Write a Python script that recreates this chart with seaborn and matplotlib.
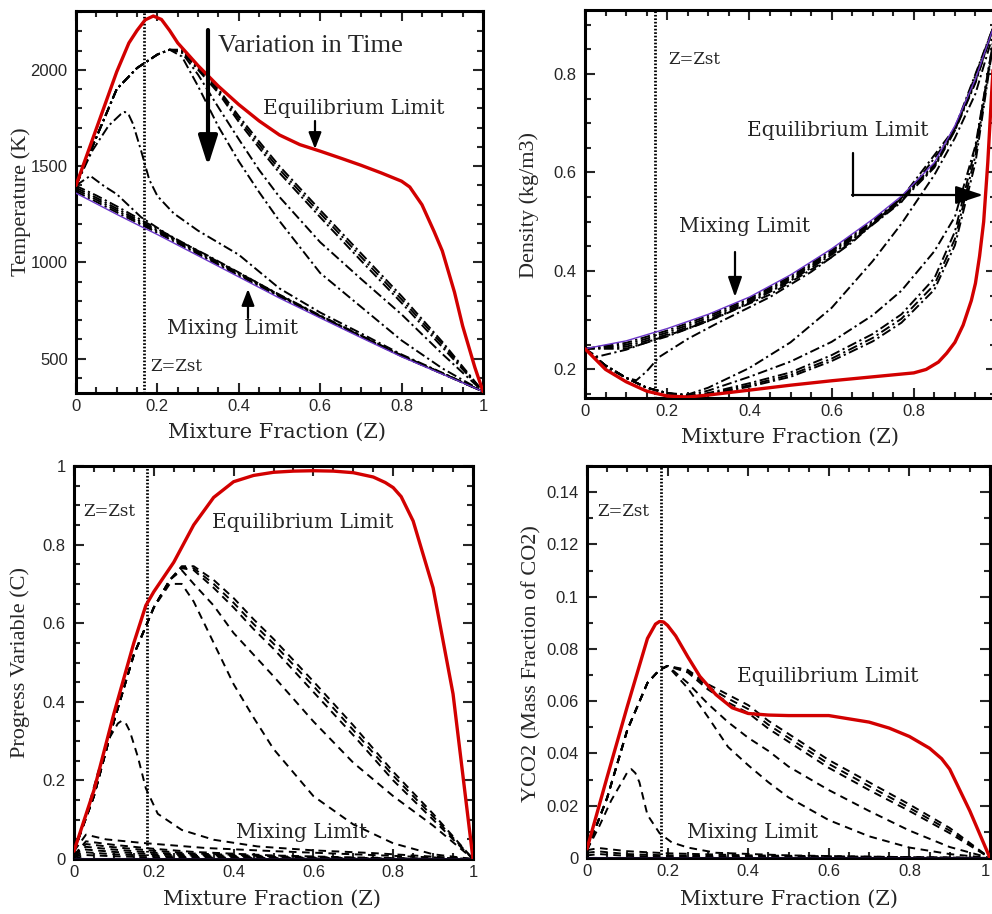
import numpy as np
import pandas as pd
import matplotlib
matplotlib.use("Agg")
import matplotlib.pyplot as plt
import seaborn as sns
from matplotlib.ticker import MultipleLocator, FuncFormatter
from matplotlib.patches import FancyArrowPatch
from matplotlib.lines import Line2D

# ======================= DATA =======================
# ---- Temperature panel ----
T_eq_z = [0, 0.05, 0.1, 0.13, 0.15, 0.17, 0.19, 0.21, 0.23, 0.25, 0.3, 0.35, 0.4, 0.45, 0.5, 0.55, 0.6, 0.65,
          0.7, 0.75, 0.8, 0.82, 0.85, 0.88, 0.9, 0.93, 0.95, 0.98, 1.0]
T_eq = [1400, 1695, 1990, 2140, 2205, 2260, 2280, 2262, 2205, 2140, 2022, 1915, 1820, 1735, 1662, 1612, 1578, 1542,
        1505, 1465, 1422, 1392, 1300, 1160, 1060, 845, 670, 455, 330]
T_band_z = [0, 0.05, 0.1, 0.15, 0.2, 0.3, 0.4, 0.5, 0.6, 0.7, 0.8, 0.9, 1.0]
T_mix = [1360, 1305, 1250, 1197, 1145, 1035, 925, 815, 712, 610, 510, 420, 330]
T_n1 = [1368, 1315, 1260, 1207, 1154, 1043, 932, 822, 717, 615, 513, 422, 330]
T_n2 = [1378, 1326, 1270, 1215, 1161, 1049, 937, 826, 720, 617, 515, 423, 330]
T_n3 = [1388, 1336, 1280, 1223, 1167, 1054, 941, 829, 722, 619, 516, 424, 330]
T_n4 = [1398, 1348, 1292, 1233, 1175, 1060, 946, 833, 725, 621, 517, 425, 330]
T_E_z = [0, 0.035, 0.07, 0.1, 0.16, 0.24, 0.32, 0.42, 0.5, 0.6, 0.8, 1.0]
T_E = [1400, 1450, 1395, 1355, 1235, 1125, 1040, 925, 830, 722, 514, 330]
T_ign_z = [0, 0.04, 0.08, 0.11, 0.12, 0.13, 0.14, 0.16, 0.18, 0.2, 0.24, 0.3, 0.4, 0.5, 0.6, 0.7, 0.8, 0.9, 1.0]
T_ign = [1400, 1580, 1710, 1770, 1782, 1765, 1720, 1580, 1430, 1345, 1255, 1165, 1040, 865, 740, 632, 522, 427, 330]
T_burn_z = [0, 0.05, 0.1, 0.15, 0.2, 0.23, 0.26, 0.3, 0.35, 0.4, 0.45, 0.5, 0.6, 0.7, 0.8, 0.9, 1.0]
T_L = [1400, 1650, 1900, 2010, 2080, 2105, 2070, 1915, 1705, 1525, 1365, 1215, 945, 770, 595, 450, 330]
T_M2 = [1400, 1650, 1900, 2010, 2080, 2105, 2090, 1975, 1805, 1640, 1480, 1340, 1105, 915, 730, 525, 330]
T_B1 = [1400, 1650, 1900, 2010, 2080, 2105, 2095, 2000, 1880, 1730, 1595, 1465, 1235, 1010, 790, 560, 330]
T_B2 = [1400, 1650, 1900, 2010, 2080, 2105, 2100, 2010, 1890, 1745, 1612, 1483, 1255, 1030, 808, 575, 330]
T_B3 = [1400, 1650, 1900, 2010, 2080, 2105, 2105, 2018, 1900, 1760, 1628, 1500, 1272, 1048, 825, 588, 330]
Zst_T = 0.167

# ---- Density panel ----
R_eq_z = [0, 0.05, 0.1, 0.15, 0.2, 0.25, 0.3, 0.4, 0.5, 0.6, 0.7, 0.8, 0.83, 0.86, 0.88, 0.9, 0.92, 0.94,
          0.95, 0.96, 0.97, 0.98, 0.99, 1.0]
R_eq = [0.242, 0.2, 0.175, 0.156, 0.146, 0.144, 0.148, 0.158, 0.168, 0.177, 0.185, 0.193, 0.2, 0.215, 0.233,
        0.255, 0.29, 0.34, 0.375, 0.43, 0.5, 0.62, 0.77, 0.91]
R_band_z = [0, 0.1, 0.2, 0.3, 0.4, 0.5, 0.6, 0.7, 0.77, 0.85, 0.9, 0.95, 1.0]
R_mix = [0.242, 0.258, 0.283, 0.312, 0.347, 0.392, 0.445, 0.505, 0.552, 0.62, 0.695, 0.79, 0.91]
R_n1 = [0.242, 0.254, 0.279, 0.309, 0.344, 0.389, 0.442, 0.502, 0.549, 0.617, 0.692, 0.788, 0.91]
R_n2 = [0.242, 0.25, 0.275, 0.305, 0.341, 0.386, 0.439, 0.5, 0.546, 0.614, 0.689, 0.786, 0.91]
R_n3 = [0.242, 0.246, 0.271, 0.301, 0.338, 0.383, 0.436, 0.497, 0.544, 0.612, 0.687, 0.784, 0.91]
R_n4 = [0.242, 0.242, 0.267, 0.298, 0.335, 0.38, 0.433, 0.495, 0.542, 0.61, 0.685, 0.782, 0.91]
R_E_z = [0, 0.03, 0.1, 0.16, 0.24, 0.32, 0.45, 0.6, 0.77, 0.9, 1.0]
R_E = [0.242, 0.226, 0.24, 0.258, 0.28, 0.305, 0.352, 0.428, 0.54, 0.685, 0.91]
R_ign_z = [0, 0.05, 0.1, 0.125, 0.15, 0.18, 0.25, 0.32, 0.45, 0.55, 0.65, 0.77, 0.9, 1.0]
R_ign = [0.242, 0.205, 0.183, 0.178, 0.196, 0.225, 0.262, 0.293, 0.347, 0.398, 0.458, 0.548, 0.69, 0.91]
R_burn_z = [0, 0.05, 0.1, 0.15, 0.2, 0.25, 0.3, 0.4, 0.5, 0.6, 0.7, 0.77, 0.85, 0.9, 0.95, 1.0]
R_L = [0.242, 0.208, 0.183, 0.163, 0.152, 0.149, 0.163, 0.203, 0.255, 0.325, 0.42, 0.496, 0.595, 0.67, 0.76, 0.9]
R_M2 = [0.242, 0.208, 0.183, 0.163, 0.152, 0.147, 0.157, 0.185, 0.216, 0.256, 0.31, 0.36, 0.44, 0.51, 0.655, 0.9]
R_B1 = [0.242, 0.208, 0.183, 0.163, 0.152, 0.146, 0.152, 0.172, 0.194, 0.229, 0.272, 0.312, 0.385, 0.48, 0.65, 0.9]
R_B2 = [0.242, 0.208, 0.183, 0.163, 0.152, 0.145, 0.15, 0.168, 0.189, 0.222, 0.264, 0.303, 0.372, 0.465, 0.635, 0.9]
R_B3 = [0.242, 0.208, 0.183, 0.163, 0.152, 0.145, 0.149, 0.165, 0.185, 0.217, 0.257, 0.295, 0.362, 0.452, 0.62, 0.9]
Zst_R = 0.170

# ---- Progress variable panel ----
C_eq_z = [0, 0.05, 0.1, 0.15, 0.18, 0.2, 0.25, 0.3, 0.35, 0.4, 0.45, 0.5, 0.55, 0.6, 0.65, 0.7, 0.75, 0.78,
          0.8, 0.82, 0.85, 0.9, 0.95, 1.0]
C_eq = [0.02, 0.175, 0.37, 0.55, 0.645, 0.68, 0.755, 0.85, 0.92, 0.96, 0.976, 0.984, 0.987, 0.988, 0.987, 0.983,
        0.972, 0.958, 0.945, 0.922, 0.86, 0.69, 0.42, 0.0]
C_band_z = [0, 0.03, 0.1, 0.2, 0.3, 0.5, 0.7, 0.9, 1.0]
C_mix = [0, 0, 0, 0, 0, 0, 0, 0, 0]
C_n1 = [0.01, 0.045, 0.036, 0.026, 0.018, 0.009, 0.004, 0.001, 0.0]
C_n2 = [0.01, 0.038, 0.03, 0.021, 0.014, 0.007, 0.003, 0.0, 0.0]
C_n3 = [0.008, 0.031, 0.024, 0.016, 0.011, 0.005, 0.002, 0.0, 0.0]
C_n4 = [0.005, 0.024, 0.018, 0.012, 0.008, 0.003, 0.001, 0.0, 0.0]
C_n5 = [0.003, 0.017, 0.012, 0.008, 0.005, 0.002, 0.0, 0.0, 0.0]
C_n6 = [0.0, 0.01, 0.007, 0.004, 0.003, 0.001, 0.0, 0.0, 0.0]
C_E_z = [0, 0.03, 0.08, 0.17, 0.33, 0.5, 0.7, 0.9, 1.0]
C_E = [0.02, 0.062, 0.05, 0.041, 0.028, 0.02, 0.012, 0.004, 0.0]
C_ign_z = [0, 0.03, 0.06, 0.09, 0.11, 0.12, 0.13, 0.14, 0.16, 0.18, 0.21, 0.27, 0.35, 0.46, 0.6, 0.75, 0.9, 1.0]
C_ign = [0.02, 0.11, 0.22, 0.31, 0.345, 0.352, 0.345, 0.325, 0.26, 0.18, 0.115, 0.074, 0.049, 0.032, 0.022, 0.015,
         0.006, 0.0]
C_burn_z = [0, 0.05, 0.1, 0.15, 0.2, 0.24, 0.27, 0.3, 0.35, 0.4, 0.45, 0.5, 0.6, 0.7, 0.8, 0.9, 1.0]
C_L = [0.02, 0.16, 0.35, 0.52, 0.64, 0.7, 0.7, 0.655, 0.55, 0.445, 0.36, 0.28, 0.16, 0.088, 0.04, 0.012, 0.0]
C_M2 = [0.02, 0.16, 0.35, 0.52, 0.64, 0.71, 0.735, 0.7, 0.645, 0.575, 0.52, 0.465, 0.35, 0.245, 0.16, 0.085, 0.0]
C_B1 = [0.02, 0.16, 0.35, 0.52, 0.64, 0.71, 0.74, 0.735, 0.69, 0.64, 0.585, 0.535, 0.425, 0.315, 0.2, 0.1, 0.0]
C_B2 = [0.02, 0.16, 0.35, 0.52, 0.64, 0.71, 0.742, 0.74, 0.70, 0.652, 0.598, 0.548, 0.44, 0.328, 0.212, 0.108, 0.0]
C_B3 = [0.02, 0.16, 0.35, 0.52, 0.64, 0.71, 0.745, 0.745, 0.71, 0.664, 0.61, 0.56, 0.452, 0.34, 0.222, 0.115, 0.0]
Zst_C = 0.182

# ---- CO2 panel ----
Y_eq_z = [0, 0.05, 0.1, 0.15, 0.17, 0.18, 0.19, 0.2, 0.22, 0.25, 0.28, 0.32, 0.36, 0.4, 0.45, 0.5, 0.6, 0.7,
          0.75, 0.8, 0.85, 0.88, 0.9, 0.95, 1.0]
Y_eq = [0.0035, 0.031, 0.058, 0.084, 0.0895, 0.0905, 0.0903, 0.089, 0.085, 0.077, 0.0695, 0.0625, 0.0575, 0.0553,
        0.0547, 0.0545, 0.0545, 0.052, 0.0497, 0.0465, 0.042, 0.038, 0.034, 0.018, 0.0]
Y_band_z = [0, 0.03, 0.1, 0.2, 0.4, 0.7, 1.0]
Y_mix = [0, 0, 0, 0, 0, 0, 0]
Y_E = [0.003, 0.0038, 0.0026, 0.0018, 0.001, 0.0005, 0.0]
Y_n1 = [0.002, 0.0025, 0.0015, 0.001, 0.0006, 0.0003, 0.0]
Y_n2 = [0.001, 0.0015, 0.0008, 0.0005, 0.0003, 0.0001, 0.0]
Y_ign_z = [0, 0.03, 0.06, 0.09, 0.1, 0.11, 0.12, 0.13, 0.15, 0.18, 0.21, 0.25, 0.32, 0.5, 0.7, 1.0]
Y_ign = [0.003, 0.012, 0.022, 0.03, 0.0328, 0.034, 0.0325, 0.029, 0.0165, 0.0095, 0.006, 0.004, 0.002, 0.001,
         0.0005, 0.0]
Y_burn_z = [0, 0.05, 0.1, 0.15, 0.18, 0.2, 0.25, 0.3, 0.35, 0.4, 0.45, 0.5, 0.6, 0.7, 0.8, 0.9, 1.0]
Y_L = [0.003, 0.023, 0.049, 0.067, 0.072, 0.0735, 0.065, 0.054, 0.0425, 0.0355, 0.029, 0.0232, 0.0145, 0.0083, 0.004, 0.0015, 0.0]
Y_M2 = [0.003, 0.023, 0.049, 0.067, 0.072, 0.0735, 0.067, 0.059, 0.052, 0.046, 0.041, 0.035, 0.026, 0.018, 0.0105, 0.0042, 0.0]
Y_B1 = [0.003, 0.023, 0.049, 0.067, 0.072, 0.0735, 0.071, 0.0645, 0.0595, 0.0555, 0.0495, 0.0445, 0.0345, 0.026, 0.018, 0.0095, 0.0]
Y_B2 = [0.003, 0.023, 0.049, 0.067, 0.072, 0.0735, 0.0715, 0.0655, 0.061, 0.057, 0.051, 0.046, 0.036, 0.0275, 0.0192, 0.0105, 0.0]
Y_B3 = [0.003, 0.023, 0.049, 0.067, 0.072, 0.0735, 0.072, 0.0665, 0.0625, 0.0585, 0.0525, 0.0475, 0.0375, 0.029, 0.0205, 0.0115, 0.0]
Zst_Y = 0.184

# ======================= STYLE =======================
sns.set_style("ticks")
plt.rcParams["font.family"] = ["Liberation Sans", "DejaVu Sans"]
plt.rcParams["lines.scale_dashes"] = False

RED = "#d20000"
PURPLE = "#6a35c8"
SERIF = ["Liberation Serif", "DejaVu Serif"]
SPACED = ["DejaVu Serif"]
DASHDOT = (7, 2.5, 1.6, 2.5)
DASHED = (5.5, 4.0)

W, H = 992, 914
fig = plt.figure(figsize=(W / 100, H / 100), dpi=100)
fig.patch.set_facecolor("white")


def axes_px(left, top, right, bottom):
    return fig.add_axes([left / W, 1 - bottom / H, (right - left) / W, (bottom - top) / H])


def P(x, y):
    return (x / W, 1 - y / H)


def curve(ax, z, v, kind, dash=None):
    if kind == "eq":
        sns.lineplot(x=z, y=v, ax=ax, color=RED, linewidth=2.4, estimator=None, sort=False, zorder=8)
        ax.lines[-1].set_solid_joinstyle("round")
    elif kind == "mix":
        sns.lineplot(x=z, y=v, ax=ax, color=PURPLE, linewidth=1.0, estimator=None, sort=False, zorder=7)
    else:
        sns.lineplot(x=z, y=v, ax=ax, color="black", linewidth=1.4, estimator=None, sort=False, zorder=5)
        ax.lines[-1].set_dashes(dash)


def style_axes(ax, ylim, ymaj, ymin):
    ax.set_xlim(0, 1)
    ax.set_ylim(*ylim)
    ax.set_facecolor("white")
    ax.xaxis.set_major_locator(MultipleLocator(0.2))
    ax.xaxis.set_minor_locator(MultipleLocator(0.05))
    ax.yaxis.set_major_locator(MultipleLocator(ymaj))
    ax.yaxis.set_minor_locator(MultipleLocator(ymin))
    fmt = FuncFormatter(lambda v, p: f"{v:g}")
    ax.xaxis.set_major_formatter(fmt)
    ax.yaxis.set_major_formatter(fmt)
    ax.tick_params(which="both", direction="in", top=True, right=True, width=1.5, labelsize=12)
    ax.tick_params(which="major", length=7)
    ax.tick_params(which="minor", length=4)
    ax.tick_params(axis="x", pad=4)
    ax.tick_params(axis="y", pad=6)
    for s in ax.spines.values():
        s.set_linewidth(2.2)
        s.set_color("black")
    ax.grid(False)


def zst(ax, z):
    ax.axvline(z, color="black", linewidth=2.0, linestyle=(0, (1.2, 1.3)), zorder=4)


def labels(ax, xl, yl, xc, yc):
    ax.set_xlabel(xl, fontfamily=SPACED, fontsize=15, va="center")
    ax.set_ylabel(yl, fontfamily=SERIF, fontsize=16, va="center")
    ax.xaxis.set_label_coords(*xc)
    ax.yaxis.set_label_coords(*yc)


def text(x, y, s, size=14.5, fam=SPACED):
    fig.text(*P(x, y), s, fontsize=size, fontfamily=fam, ha="left", va="center", zorder=20)


def arrow(x0, y0, x1, y1, lw=1.6, hl=0.9, hw=0.35, ms=12):
    a = FancyArrowPatch(P(x0, y0), P(x1, y1), transform=fig.transFigure,
                        arrowstyle=f"-|>,head_length={hl},head_width={hw}",
                        mutation_scale=ms, linewidth=lw, color="black",
                        shrinkA=0, shrinkB=0, zorder=20)
    fig.add_artist(a)


def panel(ax, eq_z, eq, band_z, mix, bands, E_z, E, ign_z, ign, burn_z, burns, dash):
    for b in bands:
        curve(ax, band_z, b, "burn", dash)
    curve(ax, E_z, E, "burn", dash)
    curve(ax, ign_z, ign, "burn", dash)
    for b in burns:
        curve(ax, burn_z, b, "burn", dash)
    curve(ax, band_z, mix, "mix")
    curve(ax, eq_z, eq, "eq")


# ---- Temperature ----
ax1 = axes_px(76, 11, 483, 393)
zst(ax1, Zst_T)
panel(ax1, T_eq_z, T_eq, T_band_z, T_mix, [T_n1, T_n2, T_n3, T_n4], T_E_z, T_E, T_ign_z, T_ign,
      T_burn_z, [T_L, T_M2, T_B1, T_B2, T_B3], DASHDOT)
style_axes(ax1, (322, 2306), 500, 100)
labels(ax1, "Mixture Fraction (Z)", "Temperature (K)", (0.495, -0.102), (-0.135, 0.5))

# ---- Density ----
ax2 = axes_px(585, 10, 996, 398)
zst(ax2, Zst_R)
panel(ax2, R_eq_z, R_eq, R_band_z, R_mix, [R_n1, R_n2, R_n3, R_n4], R_E_z, R_E, R_ign_z, R_ign,
      R_burn_z, [R_L, R_M2, R_B1, R_B2, R_B3], DASHDOT)
style_axes(ax2, (0.142, 0.93), 0.2, 0.05)
# the tick label at Z=1 lies outside the visible picture
ax2.xaxis.set_major_formatter(FuncFormatter(lambda v, p: "" if v > 0.99 else f"{v:g}"))
labels(ax2, "Mixture Fraction (Z)", "Density (kg/m3)", (0.499, -0.1005), (-0.136, 0.497))

# ---- Progress variable ----
ax3 = axes_px(74, 466, 473, 859)
zst(ax3, Zst_C)
panel(ax3, C_eq_z, C_eq, C_band_z, C_mix, [C_n1, C_n2, C_n3, C_n4, C_n5, C_n6], C_E_z, C_E, C_ign_z, C_ign,
      C_burn_z, [C_L, C_M2, C_B1, C_B2, C_B3], DASHED)
style_axes(ax3, (0, 1), 0.2, 0.05)
labels(ax3, "Mixture Fraction (Z)", "Progress Variable (C)", (0.497, -0.102), (-0.135, 0.499))

# ---- CO2 ----
ax4 = axes_px(587, 466, 990, 858)
zst(ax4, Zst_Y)
panel(ax4, Y_eq_z, Y_eq, Y_band_z, Y_mix, [Y_n1, Y_n2], Y_band_z, Y_E, Y_ign_z, Y_ign,
      Y_burn_z, [Y_L, Y_M2, Y_B1, Y_B2, Y_B3], DASHED)
style_axes(ax4, (0, 0.15), 0.02, 0.01)
labels(ax4, "Mixture Fraction (Z)", "YCO2 (Mass Fraction of CO2)", (0.501, -0.105), (-0.136, 0.495))

fig.canvas.draw()
for t in ax4.get_xticklabels():
    if t.get_text() == "1":
        t.set_horizontalalignment("right")

# ======================= ANNOTATIONS =======================
# Temperature
text(218, 46, "Variation in Time", size=19, fam=SERIF)
arrow(208, 30, 208, 166, lw=3.0, hl=1.0, hw=0.32, ms=18)
text(263, 109, "Equilibrium Limit")
arrow(315, 121, 315, 149, lw=1.6, hl=0.9, hw=0.35, ms=11)
text(167, 328, "Mixing Limit")
arrow(248, 318, 248, 289, lw=1.6, hl=0.9, hw=0.35, ms=11)
text(150, 367, "Z=Zst", size=12)

# Density
text(668, 60, "Z=Zst", size=12)
text(747, 130, "Equilibrium Limit")
fig.add_artist(Line2D([853 / W, 853 / W], [1 - 153 / H, 1 - 196 / H], transform=fig.transFigure,
                      color="black", linewidth=1.6, zorder=20))
arrow(852, 195, 983, 195, lw=1.6, hl=1.2, hw=0.4, ms=14)
text(679, 227, "Mixing Limit")
arrow(735, 252, 735, 297, lw=1.6, hl=1.0, hw=0.35, ms=12)

# Progress variable
text(83, 511, "Z=Zst", size=12)
text(212, 523, "Equilibrium Limit")
text(236, 833, "Mixing Limit")

# CO2
text(597, 511, "Z=Zst", size=12)
text(737, 677, "Equilibrium Limit")
text(687, 833, "Mixing Limit")

fig.savefig("out.png", dpi=100, facecolor="white")
